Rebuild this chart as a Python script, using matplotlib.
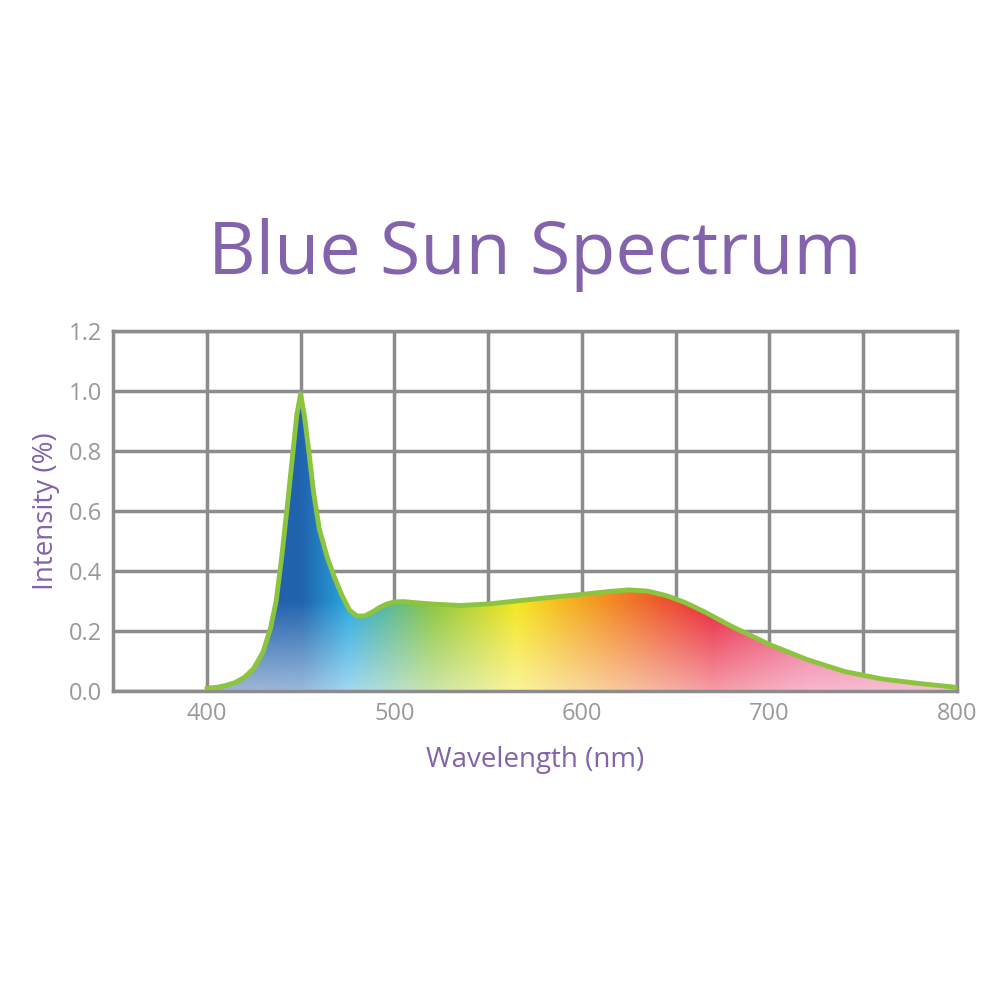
import numpy as np
import matplotlib.pyplot as plt
from matplotlib.colors import LinearSegmentedColormap

plt.rcParams['font.family'] = ['Open Sans', 'DejaVu Sans']

# spectrum samples
wavelength = [400, 405, 410, 415, 420, 425, 430, 434, 437, 440, 443, 446, 448, 450, 452, 454,
              457, 460, 464, 468, 472, 476, 480, 484, 488, 492, 496, 500, 505, 510, 520, 535,
              550, 565, 580, 600, 615, 625, 635, 645, 655, 665, 680, 700, 720, 740, 760, 780, 800]
intensity = [0.01, 0.012, 0.018, 0.028, 0.045, 0.075, 0.13, 0.21, 0.30, 0.45, 0.62, 0.80, 0.92,
             0.99, 0.92, 0.82, 0.66, 0.54, 0.45, 0.38, 0.32, 0.27, 0.25, 0.25, 0.262, 0.278,
             0.29, 0.297, 0.298, 0.295, 0.29, 0.285, 0.29, 0.30, 0.31, 0.322, 0.332, 0.337,
             0.333, 0.318, 0.295, 0.265, 0.215, 0.155, 0.105, 0.065, 0.04, 0.025, 0.012]

color_stops = [(400, '#2a5aa6'), (450, '#1f64ae'), (475, '#2aa9e0'), (520, '#8cc63f'),
               (565, '#f5e61e'), (615, '#f38a24'), (670, '#e8243c'), (720, '#ee5e8e'), (800, '#f07aa6')]

purple = '#8363ab'
grid_gray = '#8c8c8c'

fig = plt.figure(figsize=(10, 10), dpi=100)
ax = fig.add_axes([0.113, 0.309, 0.844, 0.36])
ax.set_xlim(350, 800)
ax.set_ylim(0, 1.2)

# gradient image: horizontal spectrum, fading toward white at the bottom
cmap = LinearSegmentedColormap.from_list(
    'spec', [((w - 400) / 400, c) for w, c in color_stops])
xs = np.linspace(400, 800, 800)
ys = np.linspace(0, 1.0, 300)
top = cmap((xs - 400) / 400)[:, :3]
fade = np.clip((ys / 0.3), 0, 1)[:, None, None]
img = top[None, :, :] * (0.45 + 0.55 * fade) + np.ones(3) * (0.55 * (1 - fade))
im = ax.imshow(img, extent=[400, 800, 0, 1.0], origin='lower', aspect='auto', zorder=2)
poly = ax.fill_between(wavelength, intensity, 0, color='none', zorder=1)
im.set_clip_path(poly.get_paths()[0], transform=ax.transData)

ax.plot(wavelength, intensity, color='#8dc43f', lw=3.5, zorder=4,
        solid_capstyle='round', solid_joinstyle='round')

ax.set_xticks([400, 450, 500, 550, 600, 650, 700, 750, 800])
ax.set_xticklabels(['400', '', '500', '', '600', '', '700', '', '800'])
ax.set_yticks(np.arange(0, 1.21, 0.2))
ax.set_yticklabels([f'{v:.1f}' for v in np.arange(0, 1.21, 0.2)])
ax.grid(True, color=grid_gray, lw=2.5, zorder=0)
ax.set_axisbelow(True)
for s in ax.spines.values():
    s.set_color(grid_gray)
    s.set_linewidth(2.5)
ax.tick_params(length=0, colors='#999999', labelsize=17, pad=8)
ax.set_xlabel('Wavelength (nm)', color=purple, fontsize=20, labelpad=14)
ax.set_ylabel('Intensity (%)', color=purple, fontsize=20, labelpad=6)

fig.text(0.535, 0.745, 'Blue Sun Spectrum', color=purple, fontsize=53, ha='center', va='center')

fig.savefig('out.png', dpi=100)
